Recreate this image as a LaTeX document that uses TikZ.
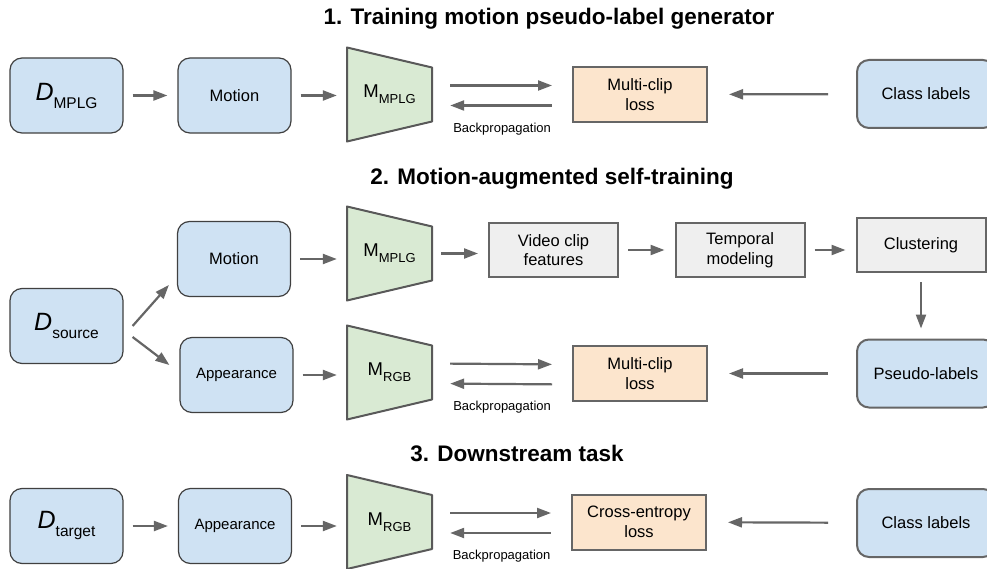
\documentclass[tikz,border=0pt]{standalone}
\usepackage{fontspec}
\setmainfont{Liberation Sans}
\usetikzlibrary{arrows.meta}

\definecolor{boxblue}{HTML}{CFE2F3}
\definecolor{netgreen}{HTML}{D9EAD3}
\definecolor{lossorange}{HTML}{FCE5CD}
\definecolor{featgray}{HTML}{EFEFEF}
\definecolor{linegray}{HTML}{666666}

\newcommand{\msub}[2]{#1\raisebox{-6pt}{\fontsize{13}{13}\selectfont #2}}
\newcommand{\dset}[1]{{\fontsize{25}{25}\selectfont\itshape D}\raisebox{-8pt}{\fontsize{15.5}{15.5}\selectfont #1}}
% trapezoid network block: name, centre, label
\newcommand{\netblock}[3]{%
  \draw[netshape] (#2) ++(-42.5,-47) -- ++(85,20) -- ++(0,54) -- ++(-85,20) -- cycle;
  \node[net] (#1) at (#2) {#3};}

\begin{document}
\begin{tikzpicture}[x=1pt, y=-1pt,
    every node/.style={font=\fontsize{16.5}{19.5}\selectfont, align=center},
    input/.style={draw=black!75, line width=1.2pt, fill=boxblue, rounded corners=12pt,
      minimum width=113pt, minimum height=75pt},
    target/.style={draw=linegray, line width=2pt, fill=boxblue, rounded corners=12pt,
      minimum width=138pt, minimum height=68pt},
    netshape/.style={draw=black!65, line width=2pt, fill=netgreen, line join=round},
    net/.style={minimum width=85pt, minimum height=94pt, inner sep=0pt,
      font=\fontsize{18.5}{18.5}\selectfont},
    lossbox/.style={draw=linegray, line width=2pt, fill=lossorange,
      minimum width=134pt, minimum height=55pt},
    featbox/.style={draw=linegray, line width=2pt, fill=featgray,
      minimum width=129pt, minimum height=54pt},
    flow/.style={draw=linegray, line width=2.2pt, -{Triangle[length=14pt,width=10pt]},
      shorten <=9pt, shorten >=10pt},
    fan/.style={flow, shorten <=0pt, shorten >=0pt},
    pass/.style={flow, shorten <=18pt, shorten >=20pt},
    back/.style={draw=linegray, line width=2.2pt, {Triangle[length=14pt,width=10pt]}-,
      shorten <=18pt, shorten >=20pt},
    feed/.style={flow, shorten <=28pt, shorten >=21pt},
    title/.style={font=\fontsize{22.5}{22.5}\selectfont\bfseries, anchor=base},
    small/.style={font=\fontsize{13}{13}\selectfont}]

    \fill[white] (0,0) rectangle (987,569);
    \clip (0,0) rectangle (987,569);

    % 1. training the pseudo-label generator
    \node[title] (t1) at (549,25) {1. Training motion pseudo-label generator};
    \node[input] (dm) at (66.5,95.5) {\dset{MPLG}};
    \node[input] (mot1) at (234.5,95.5) {Motion};
    \netblock{m1}{389.5,94.5}{\msub{M}{MPLG}}
    \node[lossbox] (loss1) at (640,94.5) {Multi-clip\\loss};
    \node[target] (cls1) at (926,94) {Class labels};

    \draw[flow] (dm) -- (mot1);
    \draw[flow] (mot1) -- (mot1 -| m1.west);
    \draw[pass] ([yshift=9pt]m1.east) -- ([yshift=9pt]loss1.west);
    \draw[back] ([yshift=-11pt]m1.east) -- ([yshift=-11pt]loss1.west)
        node[midway, below=13pt, small] {Backpropagation};
    \draw[feed] (cls1) -- (loss1);

    % 2. self-training
    \node[title] (t2) at (552,185) {2. Motion-augmented self-training};
    \node[input] (dsrc) at (66.5,326) {\dset{source}};
    \node[input] (mot2) at (234,259) {Motion};
    \node[input, font=\fontsize{15}{18}\selectfont] (app2) at (236.5,375) {Appearance};
    \netblock{m2}{389.5,253.5}{\msub{M}{MPLG}}
    \netblock{m3}{389.5,372.5}{\msub{M}{RGB}}
    \node[featbox] (video) at (553.5,250) {Video clip\\features};
    \node[featbox] (temp) at (740,250) {Temporal\\modeling};
    \node[featbox] (clust) at (921,245) {Clustering};
    \node[lossbox] (loss2) at (640,373.5) {Multi-clip\\loss};
    \node[target] (pseudo) at (926,373.5) {Pseudo-labels};

    \draw[fan] ([xshift=9pt]dsrc.east) -- ([xshift=-8pt,yshift=-26pt]mot2.west);
    \draw[fan] ([xshift=9pt,yshift=-11pt]dsrc.east) -- ([xshift=-10pt,yshift=10pt]app2.west);
    \draw[flow] (mot2.east) -- (mot2.east -| m2.west);
    \draw[flow] (app2.east) -- (app2.east -| m3.west);
    \draw[flow] (m2.east) -- (m2.east -| video.west);
    \draw[flow] (video) -- (temp);
    \draw[flow] (temp.east) -- (temp.east -| clust.west);
    \draw[flow] (clust.south) -- (clust.south |- pseudo.north);
    \draw[pass] ([yshift=9pt]m3.east) -- ([yshift=9pt]loss2.west);
    \draw[back] ([yshift=-11pt]m3.east) -- ([yshift=-11pt]loss2.west)
        node[midway, below=13pt, small] {Backpropagation};
    \draw[feed] (pseudo) -- (loss2);

    % 3. downstream
    \node[title] (t3) at (517,461) {3. Downstream task};
    \node[input] (dtgt) at (66.5,526) {\dset{target}};
    \node[input, font=\fontsize{15}{18}\selectfont] (app3) at (235,526) {Appearance};
    \netblock{m4}{389.5,522}{\msub{M}{RGB}}
    \node[lossbox] (loss3) at (639,522) {Cross-entropy\\loss};
    \node[target] (cls3) at (926,523) {Class labels};

    \draw[flow] (dtgt) -- (app3);
    \draw[flow] (app3.east) -- (app3.east -| m4.west);
    \draw[pass] ([yshift=9pt]m4.east) -- ([yshift=9pt]loss3.west);
    \draw[back] ([yshift=-11pt]m4.east) -- ([yshift=-11pt]loss3.west)
        node[midway, below=13pt, small] {Backpropagation};
    \draw[feed] (cls3) -- (loss3);
\end{tikzpicture}
\end{document}
